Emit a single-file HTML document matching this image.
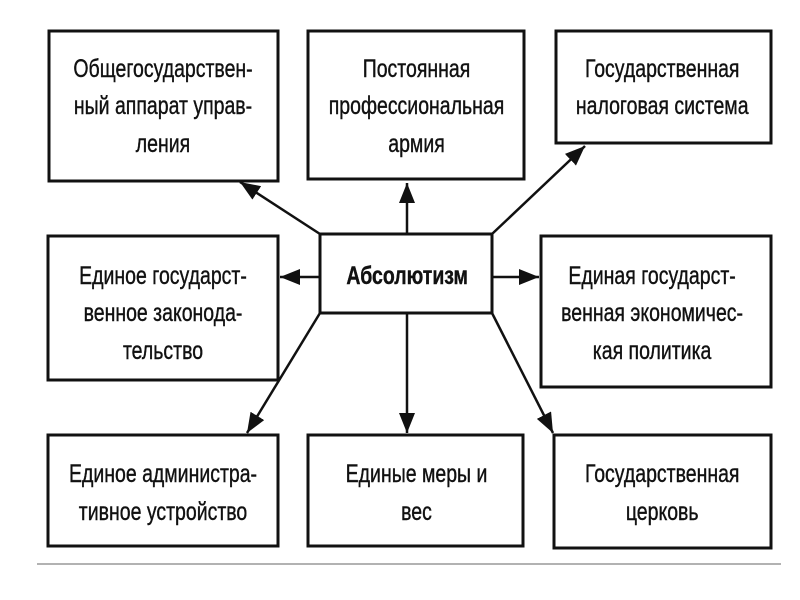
<!DOCTYPE html>
<html><head><meta charset="utf-8"><style>
html,body{margin:0;padding:0;background:#fff;}
svg{display:block;}
text{font-family:"Liberation Sans Narrow","Liberation Sans",sans-serif;font-size:25px;fill:#111;text-anchor:middle;stroke:#111;stroke-width:0.4;}
</style></head><body>
<svg width="800" height="600" viewBox="0 0 800 600" xmlns="http://www.w3.org/2000/svg">
<defs>
<marker id="b" viewBox="0 0 10 10" refX="10" refY="5" markerWidth="20" markerHeight="16" orient="auto" markerUnits="userSpaceOnUse" preserveAspectRatio="none">
<path d="M0,0 L10,5 L0,10 z" fill="#111"/>
</marker>
</defs>
<g fill="none" stroke="#111" stroke-width="3">
<rect x="49" y="31" width="229" height="150"/>
<rect x="308" y="31" width="216" height="148"/>
<rect x="556" y="31" width="215" height="112"/>
<rect x="320" y="234" width="172" height="79"/>
<rect x="48" y="236" width="230" height="144"/>
<rect x="541" y="236" width="230" height="151"/>
<rect x="48" y="435" width="230" height="111"/>
<rect x="308" y="435" width="215" height="111"/>
<rect x="554" y="435" width="217" height="113"/>
</g>
<g stroke="#111" stroke-width="2.5" fill="none">
<line x1="320" y1="234" x2="240" y2="182" marker-end="url(#b)"/>
<line x1="407" y1="234" x2="407" y2="183" marker-end="url(#b)"/>
<line x1="492" y1="234" x2="585" y2="146" marker-end="url(#b)"/>
<line x1="320" y1="277" x2="280" y2="277" marker-end="url(#b)"/>
<line x1="492" y1="277" x2="539" y2="277" marker-end="url(#b)"/>
<line x1="320" y1="313" x2="247" y2="433" marker-end="url(#b)"/>
<line x1="407" y1="313" x2="407" y2="433" marker-end="url(#b)"/>
<line x1="492" y1="313" x2="553" y2="433" marker-end="url(#b)"/>
</g>
<line x1="37" y1="564" x2="781" y2="564" stroke="#999" stroke-width="1.5"/>
<g transform="scale(0.78,1)">
<text x="209" y="77">Общегосударствен-</text>
<text x="209" y="114">ный аппарат управ-</text>
<text x="209" y="152">ления</text>
<text x="534" y="77">Постоянная</text>
<text x="534" y="114">профессиональная</text>
<text x="534" y="152">армия</text>
<text x="849" y="77">Государственная</text>
<text x="849" y="114">налоговая система</text>
<text x="522" y="284" style="font-weight:bold">Абсолютизм</text>
<text x="209" y="284">Единое государст-</text>
<text x="209" y="321">венное законода-</text>
<text x="209" y="359">тельство</text>
<text x="836" y="284">Единая государст-</text>
<text x="836" y="321">венная экономичес-</text>
<text x="836" y="359">кая политика</text>
<text x="209" y="482">Единое администра-</text>
<text x="209" y="520">тивное устройство</text>
<text x="534" y="482">Единые меры и</text>
<text x="534" y="520">вес</text>
<text x="849" y="482">Государственная</text>
<text x="849" y="520">церковь</text>
</g>
</svg>
</body></html>
